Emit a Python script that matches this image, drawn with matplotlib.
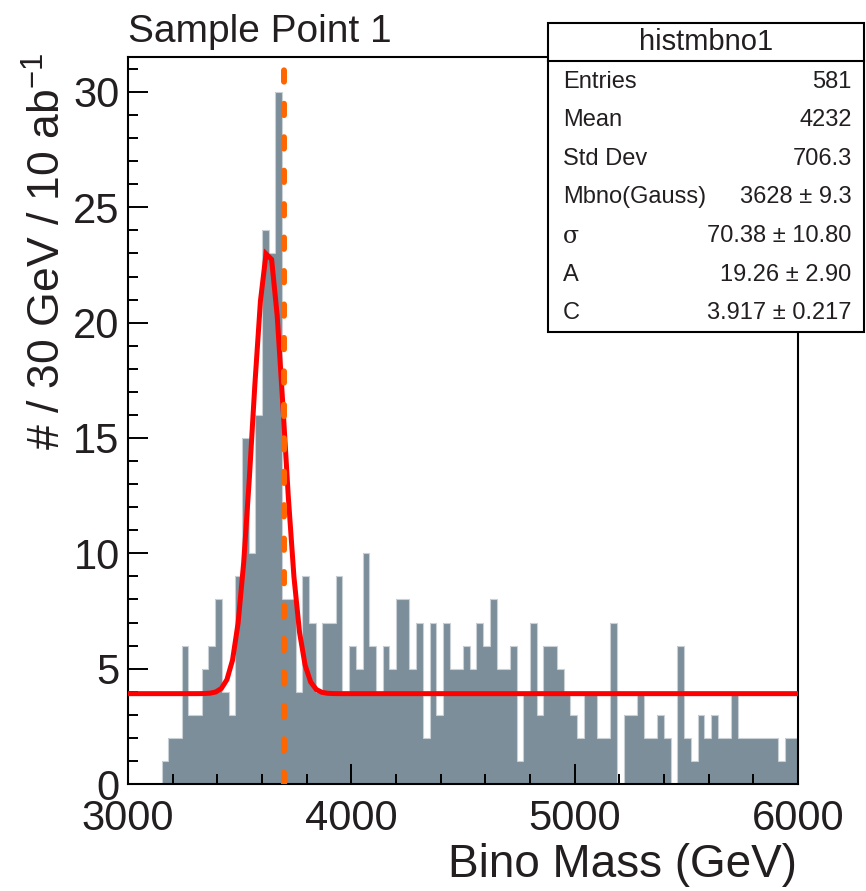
import numpy as np
import matplotlib
matplotlib.use("Agg")
import matplotlib.pyplot as plt
from matplotlib.patches import Rectangle
from matplotlib.lines import Line2D

plt.rcParams['font.family'] = ['Liberation Sans', 'DejaVu Sans']
plt.rcParams['mathtext.fontset'] = 'custom'
plt.rcParams['mathtext.rm'] = 'Liberation Sans'
plt.rcParams['mathtext.it'] = 'Liberation Sans:italic'

# histogram: 100 bins of 30 GeV from 3000 to 6000
bin_lo, bin_hi, n_bins = 3000, 6000, 100
counts = [0, 0, 0, 0, 0, 1, 2, 2, 6, 3,
          3, 5, 6, 8, 4, 3, 9, 15, 10, 16,
          24, 23, 30, 8, 8, 4, 9, 7, 4, 7,
          7, 9, 4, 6, 5, 10, 6, 4, 6, 5,
          8, 8, 5, 7, 2, 7, 3, 7, 5, 5,
          6, 5, 7, 6, 8, 5, 5, 6, 1, 4,
          7, 3, 6, 6, 5, 4, 3, 2, 4, 4,
          2, 2, 7, 0, 3, 3, 4, 2, 2, 3,
          2, 0, 6, 2, 1, 3, 2, 3, 2, 2,
          4, 2, 2, 2, 2, 2, 2, 1, 2, 2]

# gaussian + constant fit
fit_mean, fit_sigma, fit_amp, fit_const = 3628.0, 70.38, 19.26, 3.917
true_mass = 3700.0

stats_title = "histmbno1"
stats_names = ["Entries", "Mean", "Std Dev", "Mbno(Gauss)", "σ", "A", "C"]
stats_values = ["581", "4232", "706.3", "3628 ± 9.3", "70.38 ± 10.80",
                "19.26 ± 2.90", "3.917 ± 0.217"]

W, H = 866, 891
TXT = '#231f20'
BAR = '#7b8e99'

fig = plt.figure(figsize=(W / 100, H / 100), dpi=100)
ax = fig.add_axes([128 / W, 1 - 784 / H, 670 / W, (784 - 56.7) / H])

edges = np.linspace(bin_lo, bin_hi, n_bins + 1)
ax.stairs(counts, edges, fill=True, color=BAR, zorder=1)
ax.stairs(counts, edges, color='#c9d1d6', lw=0.8, zorder=1.5)

# function drawn as a polyline, like the fitted TF1
xf = np.concatenate(([bin_lo], np.arange(bin_lo + 18, bin_hi, 25), [bin_hi]))
yf = fit_amp * np.exp(-0.5 * ((xf - fit_mean) / fit_sigma) ** 2) + fit_const
ax.plot(xf, yf, color='#ff0000', lw=3.6, zorder=3, solid_joinstyle='miter')

ax.axvline(true_mass, color='#ff6600', lw=4.3, dashes=(1.9, 3.7),
           dash_capstyle='round', zorder=4)

ax.set_xlim(bin_lo, bin_hi)
ax.set_ylim(0, 31.53)
ax.set_xticks([3000, 4000, 5000, 6000])
ax.set_xticks(np.arange(3000, 6001, 200), minor=True)
ax.set_yticks([0, 5, 10, 15, 20, 25, 30])
ax.set_yticks(np.arange(0, 32, 1), minor=True)
ax.tick_params(which='both', direction='in', top=False, right=False,
               width=1.4, colors='black', labelcolor=TXT, labelsize=30)
ax.tick_params(which='major', length=14.4)
ax.tick_params(which='minor', length=7.2)
ax.tick_params(axis='x', which='major', pad=11)
ax.tick_params(axis='y', which='major', pad=6)
for s in ax.spines.values():
    s.set_linewidth(1.5)

fig.text(128 / W, 1 - 42 / H, "Sample Point 1", fontsize=28, color=TXT,
         ha='left', va='baseline')
fig.text(48 / W, 1 - 52 / H, r"# / 30 GeV / 10 ab$^{-1}$", fontsize=32,
         color=TXT, rotation=90, ha='center', va='top')
fig.text(797 / W, 1 - 877 / H, "Bino Mass (GeV)", fontsize=33, color=TXT,
         ha='right', va='baseline')

# stats box
bx0, bx1, by0, by1 = 548, 864, 22.7, 332.3
fig.patches.append(Rectangle((bx0 / W, 1 - by1 / H), (bx1 - bx0) / W,
                             (by1 - by0) / H, transform=fig.transFigure,
                             facecolor='white', edgecolor='black', lw=1.5,
                             zorder=5))
fig.lines.append(Line2D([bx0 / W, bx1 / W], [1 - 60.7 / H, 1 - 60.7 / H],
                        transform=fig.transFigure, color='black', lw=1.5,
                        zorder=6))
fig.text((bx0 + bx1) / 2 / W, 1 - 42 / H, stats_title, fontsize=21,
         color=TXT, ha='center', va='center', zorder=7)
for i, (nm, val) in enumerate(zip(stats_names, stats_values)):
    yy = 1 - (81.7 + i * 38.6) / H
    fig.text(563 / W, yy, nm, fontsize=17, color=TXT, ha='left',
             va='center', zorder=7,
             family=['DejaVu Serif'] if nm == "σ" else None)
    fig.text(851.7 / W, yy, val, fontsize=17, color=TXT, ha='right',
             va='center', zorder=7)

fig.savefig("out.png", dpi=100)
